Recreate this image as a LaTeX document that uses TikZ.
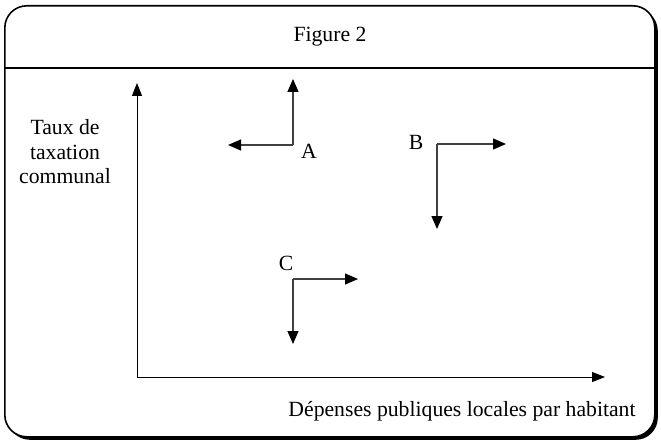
\documentclass[tikz,border=0pt]{standalone}
\usepackage{fontspec}
\setmainfont{Liberation Serif}
\usetikzlibrary{arrows.meta,shadows,positioning}
\tikzset{
  frame/.style  = {draw, line width=1.6pt, rounded corners=22pt, fill=white,
                   drop shadow={shadow xshift=3pt, shadow yshift=-3pt, opacity=1, fill=black}},
  axis/.style   = {draw, line width=1pt, -{Triangle[length=13pt,width=10pt]}},
  move/.style   = {draw, line width=1.2pt, black!75, -{Triangle[length=13pt,width=11pt,black]}},
  lbl/.style    = {font=\fontsize{21.7}{24.5}\selectfont, inner sep=0pt, align=center}
}
\begin{document}
\begin{tikzpicture}[x=1pt,y=-1pt]
\useasboundingbox (0,0) rectangle (661,441);
\node[frame, minimum width=650pt, minimum height=431pt, anchor=north west] (box) at (4,5) {};
\coordinate (hl) at (4,68);
\coordinate (hr) at (654,68);
\draw[line width=1.2pt] (hl) -- (hr);
\node[lbl] (title) at (330,37) {Figure 2};
% axes
\coordinate (O) at (137,377);
\coordinate (ytop) at (137,83);
\coordinate (xend) at (605,377);
\path[axis] (O) -- (ytop);
\path[axis] (O) -- (xend);
\node[lbl] (ylabel) at (65,152) {Taux de\\taxation\\communal};
\node[lbl] (xlabel) at (462,411) {Dépenses publiques locales par habitant};
% point A
\coordinate (A) at (293,145);
\coordinate (Aup) at (293,79);
\coordinate (Aleft) at (228,145);
\path[move] (A) -- (Aup);
\path[move] (A) -- (Aleft);
\node[lbl] (Alab) at (309,151) {A};
% point B
\coordinate (B) at (437,144);
\coordinate (Bright) at (506,144);
\coordinate (Bdown) at (437,229);
\path[move] (B) -- (Bright);
\path[move] (B) -- (Bdown);
\node[lbl] (Blab) at (416,142) {B};
% point C
\coordinate (C) at (293,279);
\coordinate (Cright) at (358,279);
\coordinate (Cdown) at (293,344);
\path[move] (C) -- (Cright);
\path[move] (C) -- (Cdown);
\node[lbl] (Clab) at (286,263) {C};
\end{tikzpicture}
\end{document}
